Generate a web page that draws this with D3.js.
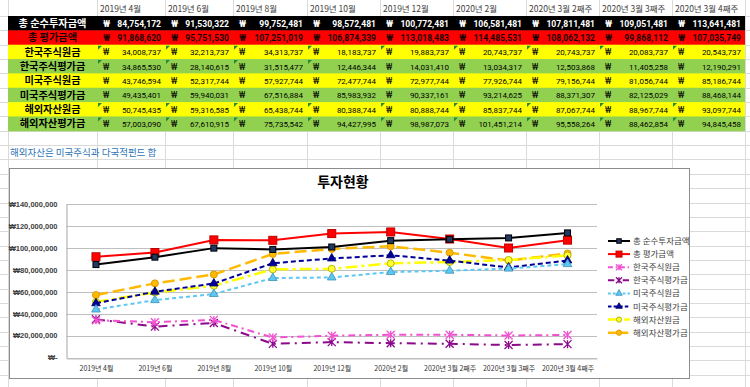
<!DOCTYPE html>
<html>
<head>
<meta charset="utf-8">
<script src="https://cdn.jsdelivr.net/npm/d3@7"></script>
<style>
  body { margin: 0; background: #fff; }
  text { font-family: "Noto Sans CJK KR", "Noto Sans", sans-serif; }
</style>
</head>
<body>
<div id="chart"></div>
<script>
// column labels of the sheet / categories of the chart
const periods = ['2019년 4월', '2019년 6월', '2019년 8월', '2019년 10월', '2019년 12월',
    '2020년 2월', '2020년 3월 2째주', '2020년 3월 3째주', '2020년 3월 4째주']

const totalInvest = [84754172, 91530322, 99752481, 98572481, 100772481, 106581481, 107811481, 109051481, 113641481]
const totalValue = [91868620, 95751530, 107251019, 106874339, 113018483, 114485531, 108062132, 99868112, 107035749]
const krPrincipal = [34008737, 32213737, 34313737, 18183737, 19883737, 20743737, 20743737, 20083737, 20543737]
const krValue = [34865530, 28140615, 31515477, 12446344, 14031410, 13034317, 12503868, 11405258, 12190291]
const usPrincipal = [43746594, 52317744, 57927744, 72477744, 72977744, 77926744, 79156744, 81056744, 85186744]
const usValue = [49435401, 59940031, 67516884, 85983932, 90337161, 93214625, 88371307, 82125029, 88468144]
const fxPrincipal = [50745435, 59316585, 65438744, 80388744, 80888744, 85837744, 87067744, 88967744, 93097744]
const fxValue = [57003090, 67610915, 75735542, 94427995, 98987073, 101451214, 95558264, 88462854, 94845458]

const yTicks = [0, 20000000, 40000000, 60000000, 80000000, 100000000, 120000000, 140000000]

const W = 750, H = 387

// sheet rows, top to bottom
const rows = [
    { name: '총 순수투자금액', values: totalInvest, fill: '#000000', color: '#ffffff', bold: true },
    { name: '총 평가금액', values: totalValue, fill: '#ff0000', color: '#1a0000', bold: true },
    { name: '한국주식원금', values: krPrincipal, fill: '#ffff00', color: '#000', flag: true },
    { name: '한국주식평가금', values: krValue, fill: '#92d050', color: '#000', flag: 'some' },
    { name: '미국주식원금', values: usPrincipal, fill: '#ffff00', color: '#000' },
    { name: '미국주식평가금', values: usValue, fill: '#92d050', color: '#000' },
    { name: '해외자산원금', values: fxPrincipal, fill: '#ffff00', color: '#000', flag: true },
    { name: '해외자산평가금', values: fxValue, fill: '#92d050', color: '#000', flag: true }
]

// chart series
const series = [
    { name: '총 순수투자금액', values: totalInvest, color: '#000000', dash: null, width: 2, marker: 'square', mfill: '#1f3864', mstroke: '#000', msize: 6 },
    { name: '총 평가금액', values: totalValue, color: '#ff0000', dash: null, width: 2, marker: 'square', mfill: '#ff0000', mstroke: '#c00000', msize: 8 },
    { name: '한국주식원금', values: krPrincipal, color: '#f052d0', dash: '7,4,2,4', width: 2, marker: 'star', mfill: 'none', mstroke: '#f052d0', msize: 8 },
    { name: '한국주식평가금', values: krValue, color: '#8b0a8b', dash: '9,5,2,5', width: 2, marker: 'star', mfill: 'none', mstroke: '#8b0a8b', msize: 8 },
    { name: '미국주식원금', values: usPrincipal, color: '#5ec8f2', dash: '4,3', width: 2, marker: 'triangle', mfill: '#5ec8f2', mstroke: '#3b8fb8', msize: 6 },
    { name: '미국주식평가금', values: usValue, color: '#000099', dash: '5,3', width: 2, marker: 'triangle', mfill: '#000099', mstroke: '#000066', msize: 6 },
    { name: '해외자산원금', values: fxPrincipal, color: '#ffff00', dash: '12,4,3,4', width: 2.5, marker: 'circle', mfill: '#ffff33', mstroke: '#b8b800', msize: 7 },
    { name: '해외자산평가금', values: fxValue, color: '#ffb900', dash: '12,5', width: 2.5, marker: 'circle', mfill: '#ffb900', mstroke: '#e09a00', msize: 7 }
]

const svg = d3.select('#chart').append('svg')
    .attr('width', W).attr('height', H)

// ---- spreadsheet grid ----
const colEdges = [8, 97, 165, 233, 307, 380, 453, 526, 599, 672, 745]
const headerH = 16, rowH = 14.35

const grid = svg.append('g').attr('stroke', '#dadada').attr('stroke-width', 1)
for (let y = headerH; y < H; y += rowH) {
    grid.append('line').attr('x1', 0).attr('x2', W).attr('y1', Math.round(y) + 0.5).attr('y2', Math.round(y) + 0.5)
}
colEdges.forEach(x => {
    grid.append('line').attr('x1', x + 0.5).attr('x2', x + 0.5).attr('y1', 0).attr('y2', H)
})

// header labels
svg.append('g').selectAll('text').data(periods).join('text')
    .attr('x', (d, i) => colEdges[i + 1] + 3)
    .attr('y', 12)
    .style('font-size', '8.5px')
    .style('fill', '#404040')
    .text(d => d)

// table rows
const fmt = d3.format(',')
rows.forEach((r, ri) => {
    const y0 = headerH + ri * rowH
    const g = svg.append('g')
    g.append('rect').attr('x', colEdges[0]).attr('y', y0)
        .attr('width', colEdges[colEdges.length - 1] - colEdges[0]).attr('height', rowH + 0.5)
        .attr('fill', r.fill)
    g.append('text')
        .attr('x', (colEdges[0] + colEdges[1]) / 2).attr('y', y0 + rowH / 2 + 3.8)
        .attr('text-anchor', 'middle')
        .style('font-size', '10.2px').style('font-weight', 'bold')
        .style('fill', r.color)
        .text(r.name)
    r.values.forEach((v, i) => {
        const xl = colEdges[i + 1], xr = colEdges[i + 2]
        g.append('text').attr('x', xl + 6).attr('y', y0 + rowH / 2 + 3.5)
            .style('font-family', 'Roboto, sans-serif')
            .style('font-size', r.bold ? '9px' : '8.5px').style('font-weight', r.bold ? 'bold' : 'normal')
            .style('fill', r.color).text('₩')
        g.append('text').attr('x', xr - 4).attr('y', y0 + rowH / 2 + 3.5)
            .attr('text-anchor', 'end')
            .style('font-family', 'Roboto, sans-serif')
            .style('font-size', r.bold ? '8.6px' : '8px').style('font-weight', r.bold ? 'bold' : 'normal')
            .style('fill', r.color).text(fmt(v))
        if (r.flag === true || (r.flag === 'some' && i < 4)) {
            g.append('path')
                .attr('d', `M${xl + 1},${y0 + 1}h4l-4,4z`)
                .attr('fill', '#1e8c3a')
        }
    })
})

// note
svg.append('text').attr('x', 10).attr('y', 156)
    .style('font-size', '9.5px').style('fill', '#2e75b6')
    .text('해외자산은 미국주식과 다국적펀드 합')

// ---- chart ----
const box = { x: 9, y: 168, w: 680, h: 210 }
svg.append('rect').attr('x', box.x + 0.5).attr('y', box.y + 0.5)
    .attr('width', box.w).attr('height', box.h)
    .attr('fill', '#fff').attr('stroke', '#8c8c8c')

svg.append('text').attr('x', 343).attr('y', 187)
    .attr('text-anchor', 'middle')
    .style('font-size', '14px').style('font-weight', 'bold')
    .text('투자현황')

const plot = { left: 66.5, right: 597, top: 204, bottom: 357.5 }

const xScale = d3.scalePoint().domain(periods).range([plot.left, plot.right]).padding(0.5)
const yScale = d3.scaleLinear().domain([0, 140000000]).range([plot.bottom, plot.top])

// gridlines
svg.append('g').selectAll('line').data(yTicks).join('line')
    .attr('x1', plot.left).attr('x2', plot.right)
    .attr('y1', d => Math.round(yScale(d)) + 0.5).attr('y2', d => Math.round(yScale(d)) + 0.5)
    .attr('stroke', '#bfbfbf').attr('stroke-width', 1)

// y axis
const yaxis = d3.axisLeft(yScale).tickValues(yTicks).tickSize(0).tickPadding(9)
    .tickFormat(d => d === 0 ? '₩-' : '₩' + fmt(d))
const yg = svg.append('g').attr('transform', `translate(${plot.left},0)`).call(yaxis)
yg.select('.domain').attr('stroke', '#a6a6a6')
yg.selectAll('text').style('font-size', '7.5px').style('font-weight', 'bold')
    .style('fill', '#404040').style('font-family', '"Liberation Sans", sans-serif')

// x axis
const xaxis = d3.axisBottom(xScale).tickSize(0).tickPadding(8)
const xg = svg.append('g').attr('transform', `translate(0,${Math.round(plot.bottom) + 0.5})`).call(xaxis)
xg.select('.domain').attr('stroke', '#bfbfbf')
xg.selectAll('text').style('font-size', '7px')
    .style('fill', '#333')

function drawMarker(g, s, x, y) {
    const m = s.msize
    if (s.marker === 'square') {
        g.append('rect').attr('x', x - m / 2).attr('y', y - m / 2).attr('width', m).attr('height', m)
            .attr('fill', s.mfill).attr('stroke', s.mstroke).attr('stroke-width', 1)
    } else if (s.marker === 'circle') {
        g.append('circle').attr('cx', x).attr('cy', y).attr('r', m / 2)
            .attr('fill', s.mfill).attr('stroke', s.mstroke).attr('stroke-width', 1)
    } else if (s.marker === 'triangle') {
        g.append('path').attr('d', d3.symbol(d3.symbolTriangle, m * m * 0.9)())
            .attr('transform', `translate(${x},${y})`)
            .attr('fill', s.mfill).attr('stroke', s.mstroke).attr('stroke-width', 0.8)
    } else if (s.marker === 'star') {
        const h = m / 2
        g.append('path')
            .attr('d', `M${x - h},${y - h}L${x + h},${y + h}M${x - h},${y + h}L${x + h},${y - h}M${x},${y - h}L${x},${y + h}`)
            .attr('stroke', s.mstroke).attr('stroke-width', 1.3).attr('fill', 'none')
    }
}

const line = d3.line()
    .x((d, i) => xScale(periods[i]))
    .y(d => yScale(d))

// draw back to front so the totals sit on top
series.slice().reverse().forEach(s => {
    const g = svg.append('g')
    g.append('path')
        .datum(s.values)
        .attr('fill', 'none')
        .attr('stroke', s.color)
        .attr('stroke-width', s.width)
        .attr('stroke-dasharray', s.dash)
        .attr('d', line)
    s.values.forEach((v, i) => drawMarker(g, s, xScale(periods[i]), yScale(v)))
})

// legend
const legend = svg.append('g').attr('transform', 'translate(608,241)')
series.forEach((s, i) => {
    const g = legend.append('g').attr('transform', `translate(0,${i * 13.1})`)
    g.append('line').attr('x1', 0).attr('x2', 22).attr('y1', 0).attr('y2', 0)
        .attr('stroke', s.color).attr('stroke-width', s.width)
        .attr('stroke-dasharray', s.dash ? s.dash.split(',').map(d => d * 0.7).join(',') : null)
    drawMarker(g, Object.assign({}, s, { msize: s.msize * 0.75 }), 11, 0)
    g.append('text').attr('x', 25).attr('y', 3)
        .style('font-size', '8.5px').style('fill', '#404040')
        .text(s.name)
})
</script>
</body>
</html>
